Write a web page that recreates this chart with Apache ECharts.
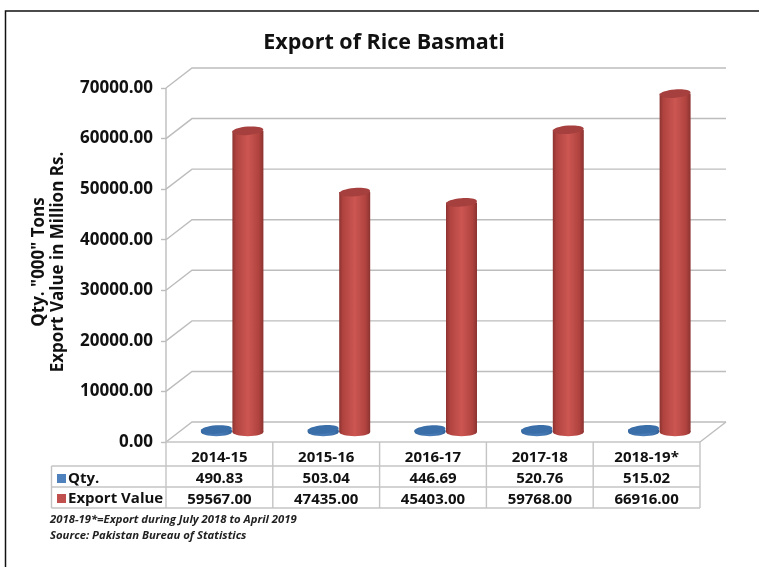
<!DOCTYPE html>
<html><head><meta charset="utf-8">
<style>html,body{margin:0;padding:0;background:#fff}#c{width:759px;height:567px}</style>
<script src="https://cdn.jsdelivr.net/npm/echarts@6/dist/echarts.min.js"></script>
</head><body><div id="c"></div>
<script>
const categories = ['2014-15','2015-16','2016-17','2017-18','2018-19*'];
const qtyValues = [490.83,503.04,446.69,520.76,515.02];
const exportValues = [59567,47435,45403,59768,66916];
const yTicks = [0,10000,20000,30000,40000,50000,60000,70000];
const titleText = 'Export of Rice Basmati';
const yAxisTitle = 'Qty. "000" Tons\nExport Value in Million Rs.';
const footnotes = ['2018-19*=Export during July 2018 to April 2019','Source: Pakistan Bureau of Statistics'];

const FONT = '"Open Sans","Noto Sans",sans-serif';
const G = {left:166,right:700,top:88,bottom:442,dx:26,dy:-20};
const TABLE = {left:51.5,r1:466,r2:487,r3:508};
const GRID = '#bdbdbd', TBL = '#c4c4c4';

function line(x1,y1,x2,y2,color,w){
  return {type:'line',shape:{x1,y1,x2,y2},style:{stroke:color,lineWidth:w||1.4}};
}
function wallItem(params,api){
  const ch=[];
  yTicks.forEach(t=>{
    const y=api.coord([0,t])[1];
    ch.push({type:'polyline',shape:{points:[[G.left,y],[G.left+G.dx,y+G.dy],[G.right+G.dx,y+G.dy]]},
      style:{stroke:GRID,lineWidth:1.4,fill:null}});
  });
  ch.push(line(G.right,G.bottom,G.right+G.dx,G.bottom+G.dy,GRID));
  ch.push(line(G.left,G.top,G.left,G.bottom,GRID));
  ch.push(line(G.left,G.bottom,G.right,G.bottom,TBL));
  [TABLE.r1,TABLE.r2,TABLE.r3].forEach(y=>ch.push(line(TABLE.left,y,G.right,y,TBL)));
  ch.push(line(TABLE.left,TABLE.r1,TABLE.left,TABLE.r3,TBL));
  const w=api.size([1,0])[0];
  for(let i=0;i<=categories.length;i++){
    const x=api.coord([0,0])[0]-w/2+i*w;
    ch.push(line(x,G.bottom,x,TABLE.r3,TBL));
  }
  return {type:'group',silent:true,children:ch};
}
function cylinder(offset,cols){
  return function(params,api){
    const cx=api.coord([api.value(0),0])[0]+offset;
    const y0=api.coord([0,0])[1]-10;
    const y1=api.coord([0,api.value(1)])[1]-10;
    const rx=15.5, ry=4.2, rot=0.08;
    const grad={type:'linear',x:0,y:0,x2:1,y2:0,colorStops:[
      {offset:0,color:cols[0]},{offset:0.12,color:cols[1]},{offset:0.5,color:cols[2]},
      {offset:0.85,color:cols[1]},{offset:1,color:cols[0]}]};
    return {type:'group',silent:true,children:[
      {type:'ellipse',shape:{cx:cx,cy:y0,rx:rx,ry:ry},style:{fill:grad}},
      {type:'rect',shape:{x:cx-rx,y:y1,width:2*rx,height:y0-y1},style:{fill:grad}},
      {type:'ellipse',shape:{cx:0,cy:0,rx:rx,ry:ry},x:cx,y:y1,rotation:rot,style:{fill:cols[3]}}
    ]};
  };
}
const chart=echarts.init(document.getElementById('c'),null,{renderer:'canvas'});
chart.setOption({
  animation:false,
  backgroundColor:'#fff',
  title:{text:titleText,left:379,top:27,textAlign:'center',
    textStyle:{fontFamily:FONT,fontSize:21.5,fontWeight:'bold',color:'#111'}},
  legend:{orient:'vertical',left:52,top:466,itemWidth:9,itemHeight:9,itemGap:5,
    data:['Qty.','Export Value'],selectedMode:false,icon:'rect',
    textStyle:{fontFamily:FONT,fontSize:15,fontWeight:'bold',color:'#111',padding:[0,0,0,-3]}},
  grid:{left:G.left,right:759-G.right,top:G.top,height:G.bottom-G.top,containLabel:false},
  xAxis:{type:'category',data:categories,axisLine:{show:false},axisTick:{show:false},
    axisLabel:{interval:0,margin:5,fontFamily:FONT,fontSize:15,fontWeight:'bold',color:'#111',lineHeight:21,
      formatter:(v,i)=>v+'\n'+qtyValues[i].toFixed(2)+'\n'+exportValues[i].toFixed(2)}},
  yAxis:{type:'value',min:0,max:70000,interval:10000,
    splitLine:{show:false},
    axisLine:{show:false},
    axisTick:{show:true,length:5,lineStyle:{color:GRID,width:1.4}},
    axisLabel:{margin:13,fontFamily:FONT,fontSize:17,fontWeight:'bold',color:'#111',padding:[3,0,0,0],formatter:v=>v.toFixed(2)}},
  graphic:[
    {type:'rect',silent:true,shape:{x:5.5,y:11,width:800,height:600},style:{fill:null,stroke:'#111',lineWidth:1.5}},
    {type:'text',silent:true,rotation:Math.PI/2,x:48.5,y:262,
      style:{text:yAxisTitle,fontFamily:FONT,fontSize:17,fontWeight:'bold',fill:'#111',align:'center',verticalAlign:'middle',lineHeight:19}},
    {type:'text',silent:true,x:50,y:520,style:{text:footnotes[0],fontFamily:FONT,fontSize:11.3,fontWeight:'bold',fontStyle:'italic',fill:'#222',verticalAlign:'middle'}},
    {type:'text',silent:true,x:50,y:536,style:{text:footnotes[1],fontFamily:FONT,fontSize:11.3,fontWeight:'bold',fontStyle:'italic',fill:'#222',verticalAlign:'middle'}}
  ],
  series:[
    {type:'custom',name:'walls',silent:true,clip:false,data:[[0,0]],encode:{x:0,y:1},renderItem:wallItem,z:1},
    {type:'custom',name:'Qty.',clip:false,silent:true,itemStyle:{color:'#4f81bd'},
      data:qtyValues.map((v,i)=>[i,v]),encode:{x:0,y:1},z:2,
      renderItem:cylinder(-3,['#2f5f96','#3f72ab','#4a7db8','#3a6ea8'])},
    {type:'custom',name:'Export Value',clip:false,silent:true,itemStyle:{color:'#c0504d'},
      data:exportValues.map((v,i)=>[i,v]),encode:{x:0,y:1},z:3,
      renderItem:cylinder(28.5,['#8c3331','#b0433f','#cc5652','#a5403e'])}
  ]
});
</script></body></html>
